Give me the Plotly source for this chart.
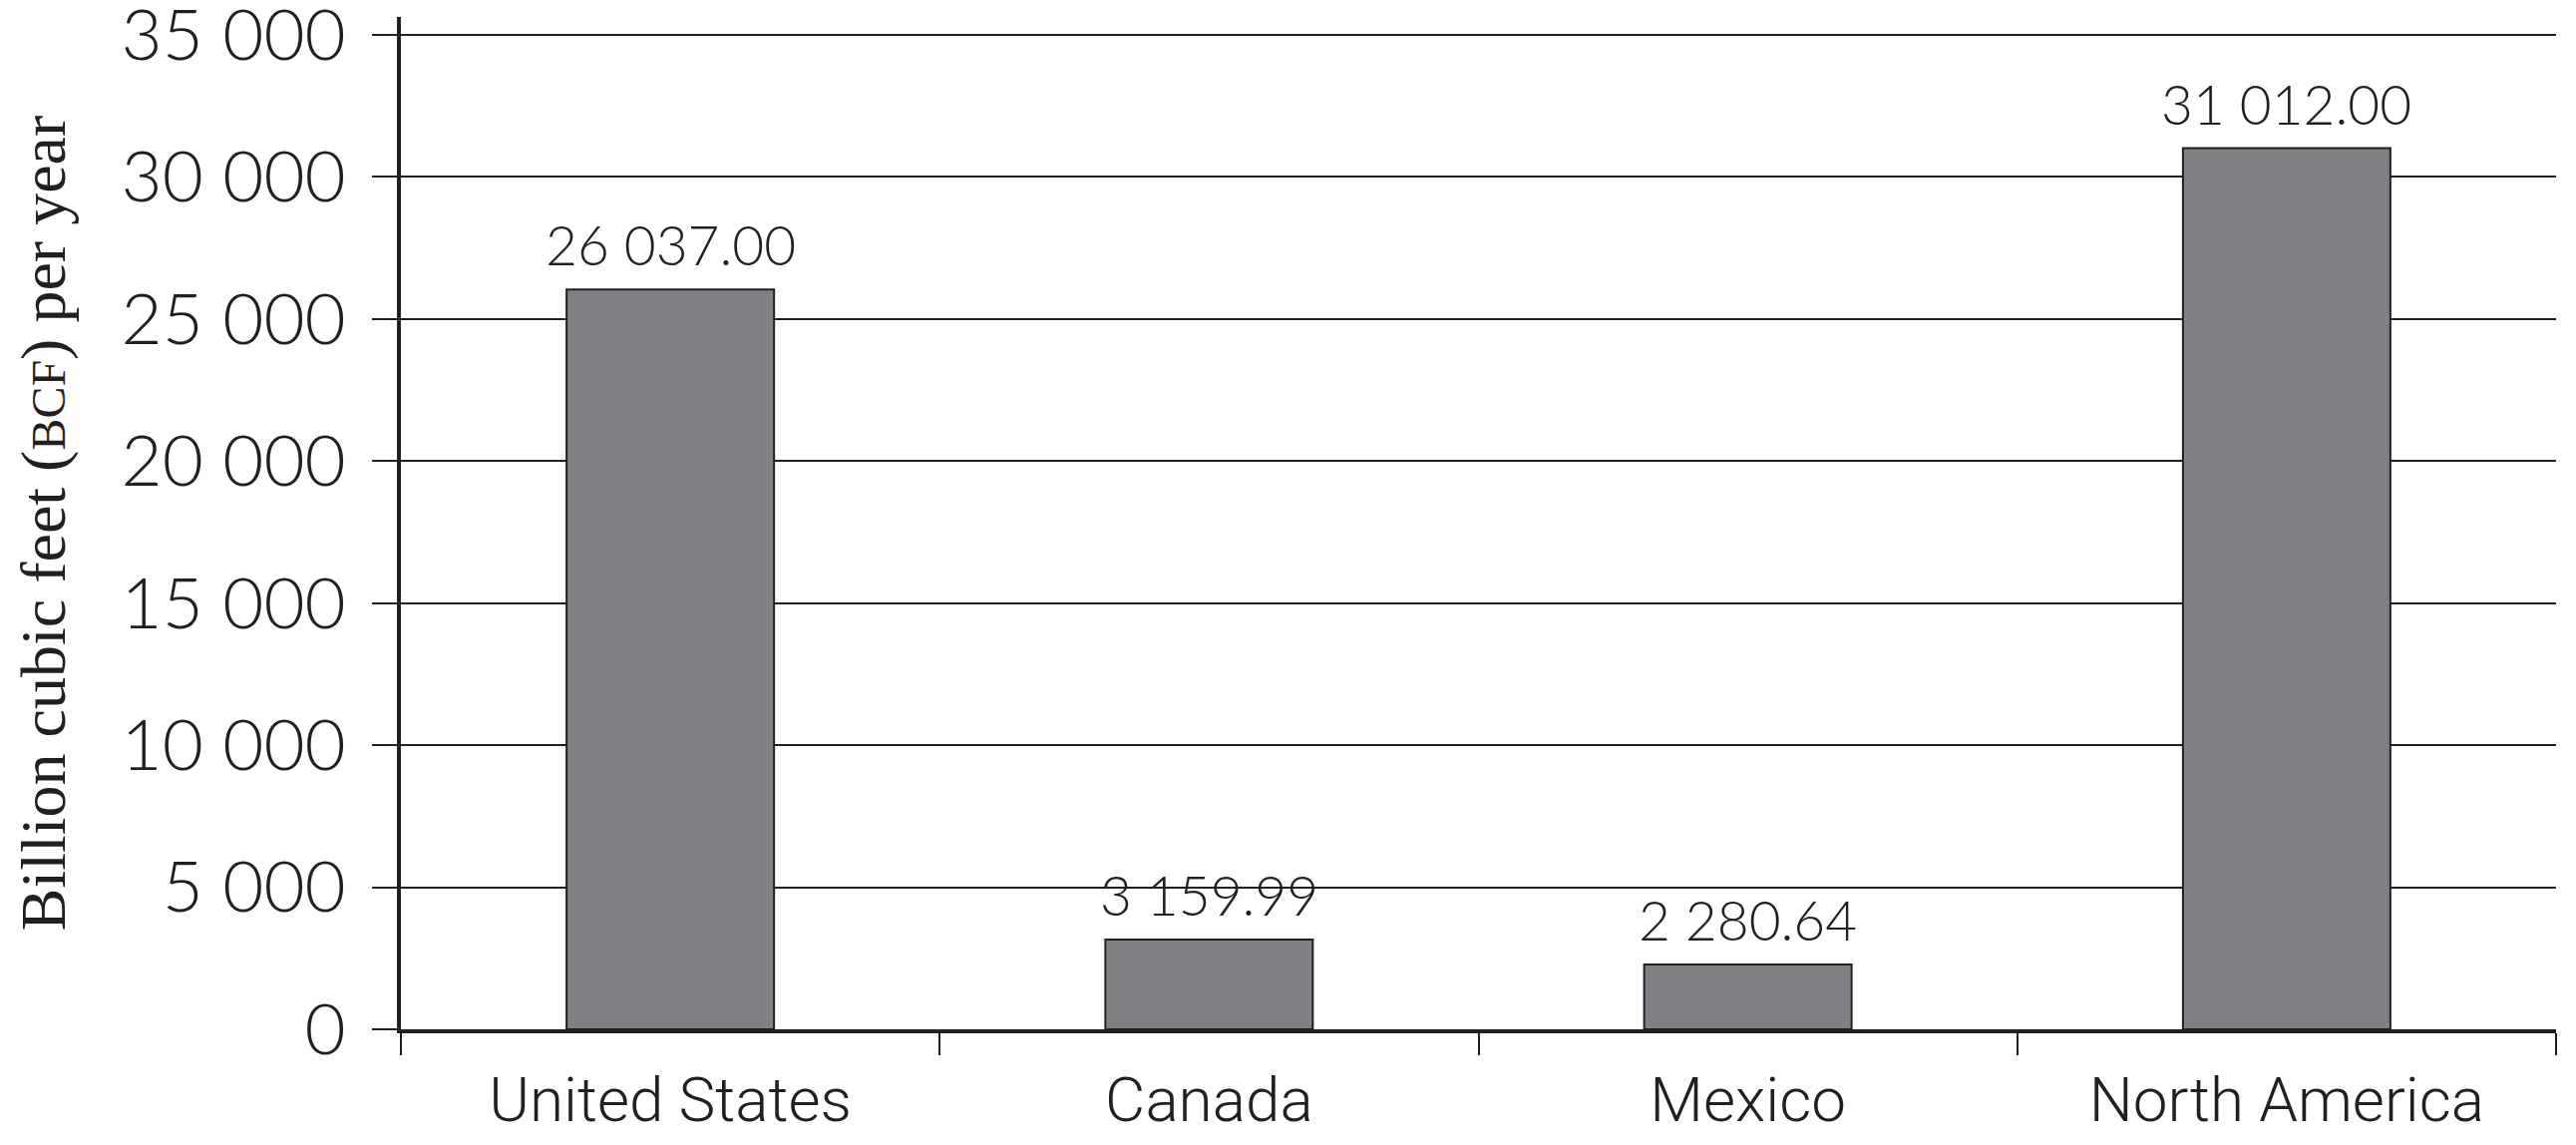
import plotly.graph_objects as go

categories = ["United States", "Canada", "Mexico", "North America"]
values = [26037.00, 3159.99, 2280.64, 31012.00]
y_ticks = [0, 5000, 10000, 15000, 20000, 25000, 30000, 35000]

INK = "#231f20"
BAR = "#808184"

labels = [f"{v:,.2f}".replace(",", " ") for v in values]

fig = go.Figure()
fig.add_trace(go.Bar(
    x=categories, y=values,
    marker=dict(color=BAR, line=dict(color=INK, width=2)),
    hoverinfo="skip",
))

for c, v, t in zip(categories, values, labels):
    fig.add_annotation(x=c, y=v, text=t, showarrow=False, yanchor="bottom",
                       yshift=10,
                       font=dict(family="Lato, Open Sans, sans-serif", size=55, color=INK, weight=300))

fig.update_layout(
    width=2567, height=1132,
    margin=dict(l=394, r=12, t=9, b=108),
    paper_bgcolor="white", plot_bgcolor="white",
    separators=". ",
    showlegend=False,
    bargap=0.615,
)

fig.update_yaxes(
    range=[0, 35630],
    tickvals=y_ticks, tickformat=",d",
    showgrid=True, gridcolor=INK, gridwidth=2,
    zeroline=False,
    showline=True, linecolor=INK, linewidth=4,
    ticks="outside", ticklen=25, tickwidth=2, tickcolor=INK,
    tickfont=dict(family="Lato, Open Sans, sans-serif", size=71, color=INK, weight=300),
    ticklabelstandoff=12,
    ticklabeloverflow="allow",
    title=dict(
        text="Billion cubic feet (<span style='font-size:48px'>BCF</span>) per year",
        font=dict(family="Liberation Serif, DejaVu Serif, serif", size=64, color=INK),
        standoff=58,
    ),
    automargin=False,
)

fig.update_xaxes(
    showline=True, linecolor=INK, linewidth=4,
    ticks="outside", tickson="boundaries", ticklen=22, tickwidth=2, tickcolor=INK,
    tickfont=dict(family="Roboto, sans-serif", size=62, color=INK, weight=300),
    ticklabelstandoff=14,
    showgrid=False,
    automargin=False,
)

fig.write_html("out.html")
